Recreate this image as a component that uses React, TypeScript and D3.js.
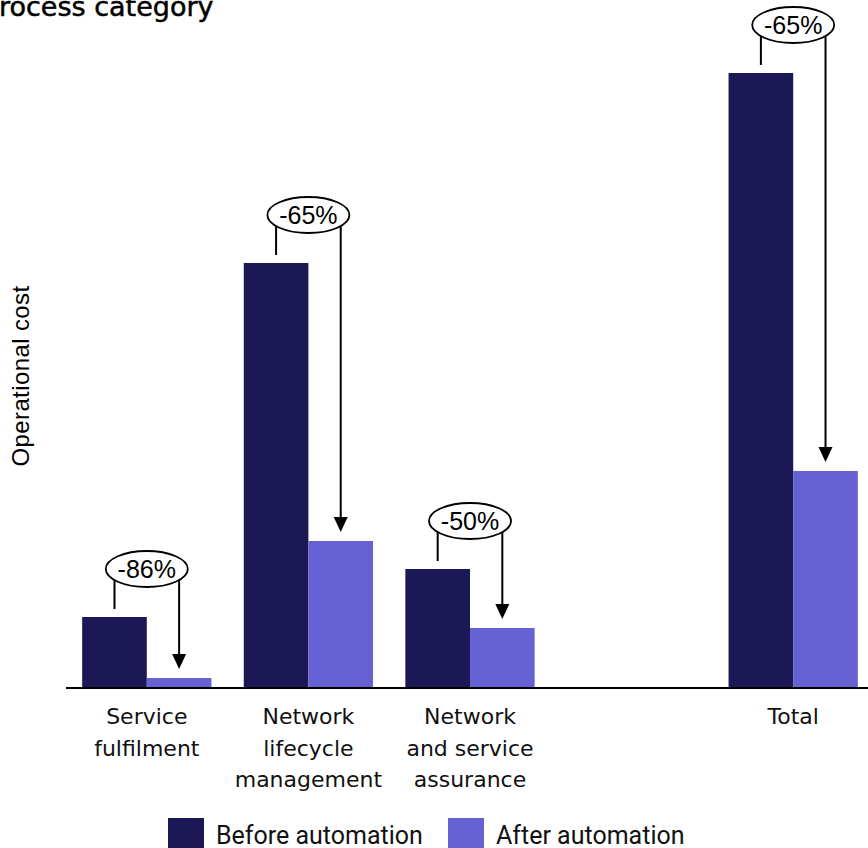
import React from "react";
import * as d3 from "d3";

const categories = ["Service fulfilment", "Network lifecycle management", "Network and service assurance", "", "Total"];
const categoryLabelLines = [["Service", "fulfilment"], ["Network", "lifecycle", "management"], ["Network", "and service", "assurance"], [], ["Total"]];
const beforeValues = [71, 425, 119, null, 615];
const afterValues = [10, 147, 60, null, 217];
const changeLabels = ["-86%", "-65%", "-50%", null, "-65%"];
const seriesNames = ["Before automation", "After automation"];
const seriesKeys = ["before", "after"];
const colors = ["#1b1855", "#6762d4"];

const W = 868;
const H = 848;
const baseY = 688;

export default function App() {
  const x0 = d3.scaleBand<string>().domain(categories.map((c, i) => c || "gap" + i)).range([66, 874]).paddingInner(0.2).paddingOuter(0.1);
  const x1 = d3.scaleBand<string>().domain(seriesKeys).range([0, x0.bandwidth()]).padding(0);
  const y = d3.scaleLinear().domain([0, 615]).range([baseY, 73]);
  const keys = x0.domain();
  const bw = x1.bandwidth();
  const rx = 41;
  const ry = 18;

  return (
    <svg width={W} height={H} style={{ position: "absolute", left: 0, top: 0 }}>
      <rect width={W} height={H} fill="#fff" />
      <text x={-1} y={16} fontFamily="DejaVu Sans" fontSize={27} fill="#000" stroke="#000" strokeWidth={0.5}>rocess category</text>
      <text transform={`translate(29,376) rotate(-90)`} textAnchor="middle" fontFamily="Liberation Sans" fontSize={24} letterSpacing={0.4} fill="#000">Operational cost</text>
      {keys.map((k, i) => {
        const vals = [beforeValues[i], afterValues[i]];
        return (
          <g key={k}>
            {vals.map((v, j) => v == null ? null : (
              <rect key={j} x={(x0(k) as number) + (x1(seriesKeys[j]) as number)} y={y(v)} width={bw} height={baseY - y(v)} fill={colors[j]} />
            ))}
          </g>
        );
      })}
      <line x1={66} x2={868} y1={baseY} y2={baseY} stroke="#000" strokeWidth={2} />
      {keys.map((k, i) => (
        <text key={"lbl" + k} textAnchor="middle" fontFamily="DejaVu Sans" fontSize={22} fill="#111">
          {categoryLabelLines[i].map((l, li) => (
            <tspan key={li} x={(x0(k) as number) + x0.bandwidth() / 2} y={724 + li * 31.5}>{l}</tspan>
          ))}
        </text>
      ))}
      {keys.map((k, i) => {
        const b = beforeValues[i];
        const a = afterValues[i];
        const lab = changeLabels[i];
        if (b == null || a == null || lab == null) return null;
        const lx = (x0(k) as number) + (x1("before") as number) + bw / 2;
        const rxp = (x0(k) as number) + (x1("after") as number) + bw / 2;
        const cx = (lx + rxp) / 2;
        const cy = y(b) - 48;
        const dl = ry * Math.sqrt(1 - Math.pow((cx - lx) / rx, 2));
        const dr = ry * Math.sqrt(1 - Math.pow((rxp - cx) / rx, 2));
        const tipY = y(a) - 9;
        return (
          <g key={"ann" + k}>
            <line x1={lx} x2={lx} y1={cy + dl} y2={y(b) - 8} stroke="#000" strokeWidth={2} />
            <line x1={rxp} x2={rxp} y1={cy + dr} y2={tipY - 12} stroke="#000" strokeWidth={2} />
            <path d={`M${rxp - 7},${tipY - 15}L${rxp + 7},${tipY - 15}L${rxp},${tipY}Z`} fill="#000" />
            <ellipse cx={cx} cy={cy} rx={rx} ry={ry} fill="#fff" stroke="#000" strokeWidth={1.8} />
            <text x={cx} y={cy + 9} textAnchor="middle" fontFamily="Liberation Sans" fontSize={25} fill="#000">{lab}</text>
          </g>
        );
      })}
      {seriesNames.map((s, j) => {
        const lx = [168, 448][j];
        return (
          <g key={s}>
            <rect x={lx} y={818} width={36} height={34} fill={colors[j]} />
            <text x={lx + 48} y={844} fontFamily="Roboto" fontSize={25} fill="#111">{s}</text>
          </g>
        );
      })}
    </svg>
  );
}
